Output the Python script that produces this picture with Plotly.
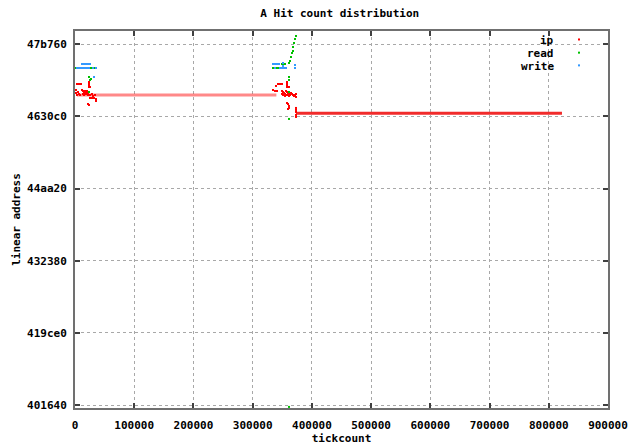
import plotly.graph_objects as go

# ---- data ----
title_text = "A Hit count distribution"
x_tick_vals = [0, 100000, 200000, 300000, 400000, 500000, 600000, 700000, 800000, 900000]
y_tick_vals = [4200000, 4300000, 4400000, 4500000, 4600000, 4700000]
y_tick_text = ["401640", "419ce0", "432380", "44aa20", "4630c0", "47b760"]

# ip: long horizontal runs (start, end, address)
ip_run_x0 = [3380, 373180]
ip_run_x1 = [340000, 822300]
ip_run_y = [4629760, 4604500]

# ip: scattered hits
ip_x = [3380, 6750, 10130,
        23640, 23640, 23640, 23640, 25330,
        1690, 1690, 3380, 5070, 6750, 8440, 11820, 13510, 15200, 16890, 18570, 20260,
        21950, 13510, 16890, 20260, 18570, 15200, 21950, 25330, 28710, 30390, 33770,
        25330, 28710, 32080, 35460, 35460, 35460, 21950, 23640,
        339410, 342780, 346160, 349540,
        357980, 357980, 357980, 357980, 359670, 361360,
        334340, 337720, 341090,
        349540, 351230, 352920, 354610, 356300, 357980, 359670, 361360, 363050,
        351230, 354610, 357980, 361360, 349540,
        364740, 366430, 368110, 369800, 371490, 373180, 373180,
        357980, 359670, 361360, 361360, 359670,
        373180, 373180, 373180, 373180, 373180]
ip_y = [4645000, 4645000, 4645000,
        4647770, 4645000, 4642230, 4640840, 4640840,
        4636690, 4632530, 4629760, 4633920, 4631150, 4629760, 4636690, 4635300, 4633920,
        4632530, 4631150, 4635300, 4632530, 4631150, 4635300, 4631150, 4633920, 4629760,
        4629760, 4629760, 4631150, 4628380, 4629760,
        4625610, 4625610, 4625610, 4624230, 4622840, 4621450, 4617300, 4615910,
        4642230, 4645000, 4645000, 4645000,
        4647770, 4645000, 4642230, 4640840, 4640840, 4640840,
        4636690, 4635300, 4635300,
        4635300, 4633920, 4632530, 4631150, 4635300, 4633920, 4632530, 4631150, 4629760,
        4629760, 4628380, 4629760, 4628380, 4631150,
        4632530, 4631150, 4629760, 4628380, 4629760, 4631150, 4626990,
        4618680, 4617300, 4614530, 4611760, 4610370,
        4611760, 4608990, 4606210, 4602060, 4599290]

read_x = [1690, 5070, 8440, 11820, 15200, 25330, 28710, 32080,
          13510, 16890, 20260,
          23640, 25330, 27020, 23640,
          373180, 371490, 369800, 368110, 368110, 366430, 364740, 363050, 361360,
          349540, 352920, 354610,
          334340, 339410, 342780,
          361360, 361360, 361360, 361360, 361360]
read_y = [4667160, 4667160, 4667160, 4667160, 4667160, 4667160, 4667160, 4667160,
          4672700, 4672700, 4672700,
          4654690, 4650540, 4652000, 4633920,
          4711470, 4707320, 4701780, 4696240, 4690700, 4687930, 4682390, 4676850, 4674080,
          4672700, 4672700, 4672700,
          4667160, 4667160, 4667160,
          4654690, 4650540, 4633920, 4596520, 4197500]

write_x = [11820, 15200, 18570, 21950, 25330,
           3380, 6750, 10130, 13510, 16890, 20260, 23640, 30390, 35460,
           32080,
           334340, 337720, 341090, 344470,
           351230, 351230, 352920,
           337720, 346160, 349540, 356300,
           371490, 371490]
write_y = [4672700, 4672700, 4672700, 4672700, 4672700,
           4667160, 4667160, 4667160, 4667160, 4667160, 4667160, 4667160, 4667160, 4667160,
           4654690,
           4672700, 4672700, 4672700, 4672700,
           4674080, 4670000, 4667160,
           4667160, 4667160, 4667160, 4667160,
           4671320, 4667160]

legend_names = ["ip", "read", "write"]
colors = ["#ff0000", "#00c000", "#3399ff"]

# ---- figure ----
FONT = "DejaVu Sans Mono"
fig = go.Figure()

for i in range(len(ip_run_y)):
    fig.add_trace(go.Scatter(
        x=[ip_run_x0[i], ip_run_x1[i]], y=[ip_run_y[i], ip_run_y[i]],
        mode="lines",
        line=dict(color="rgba(255,40,40,0.55)" if i == 0 else "rgba(240,20,20,0.9)", width=3),
        showlegend=False, hoverinfo="skip"))

for xs, ys, c, nm in [(ip_x, ip_y, colors[0], "ip"),
                      (read_x, read_y, colors[1], "read"),
                      (write_x, write_y, colors[2], "write")]:
    fig.add_trace(go.Scatter(
        x=xs, y=ys, mode="markers", name=nm,
        marker=dict(color=c, size=2, symbol="square", line=dict(width=0)),
        showlegend=False))

axis_common = dict(
    showgrid=True, gridcolor="#a8a8a8", griddash="dot", gridwidth=1,
    showline=True, linecolor="#707070", linewidth=2, mirror="ticks",
    ticks="inside", ticklen=5, tickcolor="#404040", tickwidth=2,
    zeroline=False, automargin=False,
    tickfont=dict(family=FONT, size=11, color="#000000", weight="bold"),
)

fig.update_xaxes(
    range=[0, 900000], tickmode="array", tickvals=x_tick_vals,
    ticktext=[str(v) for v in x_tick_vals], ticklabelstandoff=6,
    title=dict(text="tickcount", font=dict(family=FONT, size=11, color="#000000", weight="bold"),
               standoff=2),
    **axis_common)
fig.update_yaxes(
    range=[4196000, 4718400], tickmode="array", tickvals=y_tick_vals,
    ticktext=y_tick_text, ticklabelstandoff=4,
    title=dict(text="linear address", font=dict(family=FONT, size=11, color="#000000", weight="bold"),
               standoff=4),
    **axis_common)

# gnuplot-style key: right-aligned label, sample dot to its right
key_text_y = [0.9748, 0.9408, 0.9069]
key_dot_y = [0.9749, 0.9399, 0.9062]
for i, nm in enumerate(legend_names):
    fig.add_annotation(x=0.9006, y=key_text_y[i], xref="paper", yref="paper",
                       text=nm, showarrow=False, xanchor="right", yanchor="middle",
                       borderpad=0,
                       font=dict(family=FONT, size=11, color="#000000", weight="bold"))
    fig.add_shape(type="rect", xref="paper", yref="paper",
                  x0=0.9437, x1=0.9437 + 0.0038, y0=key_dot_y[i], y1=key_dot_y[i] + 0.0053,
                  fillcolor=colors[i], line=dict(width=0))

fig.update_layout(
    width=628, height=446,
    margin=dict(l=75, r=20, t=31, b=38),
    paper_bgcolor="white", plot_bgcolor="white",
    title=dict(text=title_text, x=0.541, xref="container", xanchor="center",
               y=1 - 13 / 446, yref="container", yanchor="middle",
               font=dict(family=FONT, size=11, color="#000000", weight="bold")),
    showlegend=False,
)

fig.write_html("out.html")
